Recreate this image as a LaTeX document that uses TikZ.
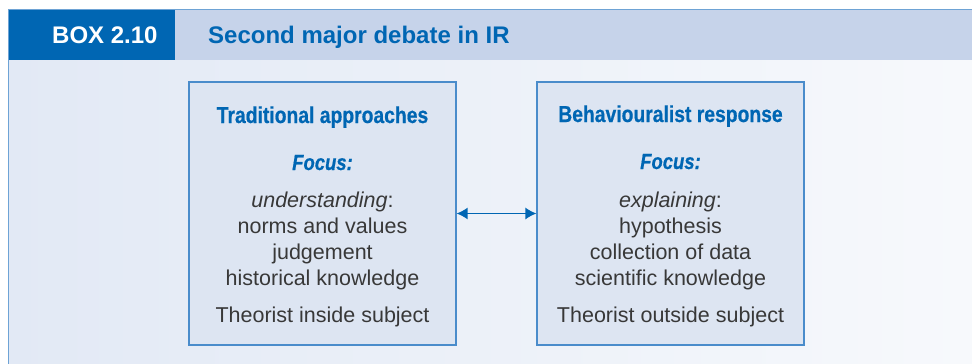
\documentclass[tikz,border=0pt]{standalone}
\usepackage{fontspec}
\setmainfont{Liberation Sans}
\newfontfamily\condfont[FakeStretch=0.84,FakeBold=0.6]{Liberation Sans}
\usetikzlibrary{arrows.meta}
\definecolor{boxblue}{HTML}{0066B3}
\definecolor{headlight}{HTML}{C6D3EA}
\definecolor{panelfill}{HTML}{DDE5F2}
\definecolor{panelline}{HTML}{4A8CCB}
\definecolor{bodytext}{HTML}{383838}
\definecolor{bgblue}{HTML}{E2E9F5}
\definecolor{bgwhite}{HTML}{F7F9FC}
\tikzset{
  panel/.style={draw=panelline, fill=panelfill, line width=1.2pt, minimum width=267pt, minimum height=263pt, inner sep=0pt},
  headtxt/.style={anchor=base west, inner sep=0pt, font=\bfseries\fontsize{24}{28}\selectfont},
  ptitle/.style={anchor=base, inner sep=0pt, text=boxblue, font=\condfont\bfseries\fontsize{23}{27}\selectfont},
  pfocus/.style={anchor=base, inner sep=0pt, text=boxblue, font=\condfont\bfseries\itshape\fontsize{22}{26}\selectfont},
  pline/.style={anchor=base, inner sep=0pt, text=bodytext, font=\fontsize{21.5}{26}\selectfont},
  dbl/.style={{Latex[length=11pt,width=12pt]}-{Latex[length=11pt,width=12pt]}, draw=boxblue, line width=1.3pt}
}
\begin{document}
\begin{tikzpicture}[x=1pt,y=-1pt]
\useasboundingbox (0,0) rectangle (972,364);
\fill[white] (0,0) rectangle (972,364);
\shade[left color=bgblue, right color=bgwhite] (8,60) rectangle (972,364);
\fill[headlight] (8,9) rectangle (972,60);
\fill[boxblue] (8,9) rectangle (175,60);
\draw[panelline!80, line width=1pt] (980,9) -- (8,9) -- (8,372);
\node[headtxt, text=white] (boxno) at (52,43) {BOX 2.10};
\node[headtxt, text=boxblue] (title) at (208,43) {Second major debate in IR};
% panels
\node[panel] (trad) at (322.5,213.5) {};
\node[panel] (beh) at (670.5,213.5) {};
\draw[dbl] (trad.east) -- (beh.west);
% left texts
\node[ptitle] (tradT) at (322.5,123) {Traditional approaches};
\node[pfocus] (tradF) at (322.5,170) {Focus:};
\node[pline] (tradA) at (322.5,207) {\itshape understanding\upshape:};
\node[pline] (tradB) at (322.5,233) {norms and values};
\node[pline] (tradC) at (322.5,259) {judgement};
\node[pline] (tradD) at (322.5,285) {historical knowledge};
\node[pline] (tradE) at (322.5,322) {Theorist inside subject};
% right texts
\node[ptitle] (behT) at (670.5,122) {Behaviouralist response};
\node[pfocus] (behF) at (670.5,169) {Focus:};
\node[pline] (behA) at (670.5,207) {\itshape explaining\upshape:};
\node[pline] (behB) at (670.5,233) {hypothesis};
\node[pline] (behC) at (670.5,259) {collection of data};
\node[pline] (behD) at (670.5,285) {scientific knowledge};
\node[pline] (behE) at (670.5,322) {Theorist outside subject};
\end{tikzpicture}
\end{document}
